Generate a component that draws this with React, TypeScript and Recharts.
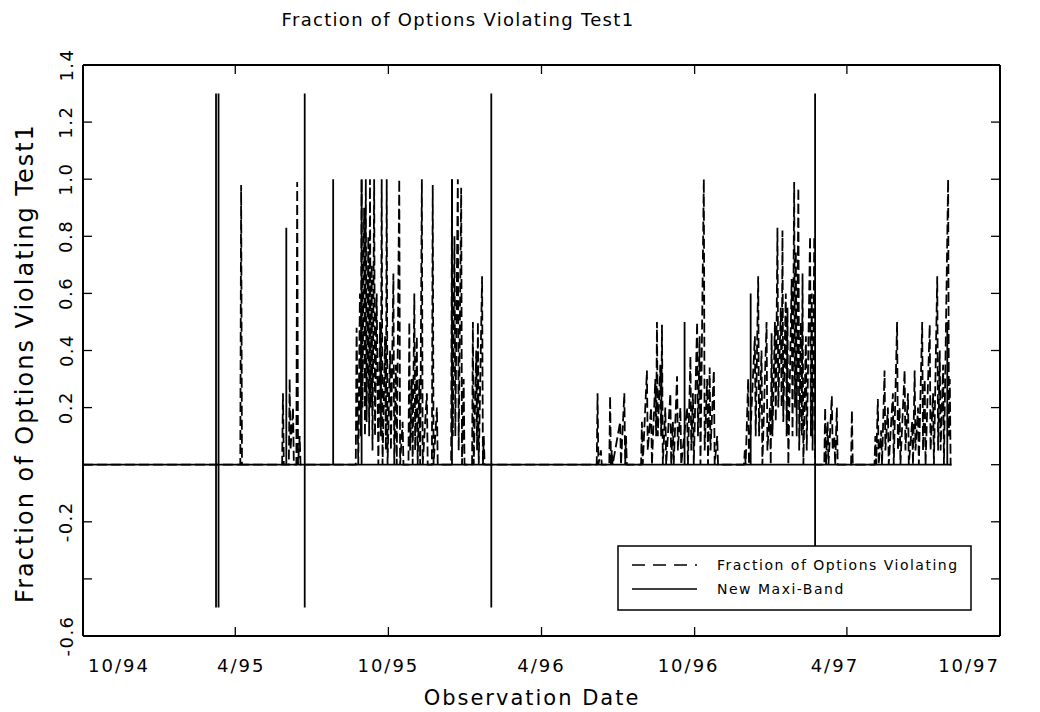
import React from 'react';
import { LineChart, Line, XAxis, YAxis } from 'recharts';

// x values are days since 1 Oct 1994
const xTickDays = [0, 182, 365, 548, 731, 913, 1096];
const xTickLabels = ['10/94', '4/95', '10/95', '4/96', '10/96', '4/97', '10/97'];
const yTicks = [-0.6, -0.4, -0.2, 0, 0.2, 0.4, 0.6, 0.8, 1.0, 1.2, 1.4];
const yTickLabels = ['-0.6', '', '-0.2', '', '0.2', '0.4', '0.6', '0.8', '1.0', '1.2', '1.4'];

const seriesNames = ['Fraction of Options Violating', 'New Maxi-Band'];

// [day, fraction]
const fractionPoints: [number, number][] = [
  [0, 0], [188, 0], [189, 0.98], [190, 0], [238, 0], [239, 0.25], [240, 0], [246, 0], [247, 0.3], [248, 0.05],
  [251, 0.2], [252, 0], [255, 0], [256, 0.99], [257, 0], [259, 0.1], [260, 0],
  [326, 0], [327, 0.48], [329, 0], [331, 0.6], [332, 0.1], [333, 1.0], [334, 0.2], [336, 0.9], [337, 0.1],
  [338, 1.0], [339, 0.15], [341, 0.8], [342, 0.1], [343, 1.0], [344, 0.2], [345, 0.7], [346, 0.05], [348, 1.0],
  [349, 0.1], [351, 0.6], [353, 0], [355, 0.5], [356, 0.1], [357, 1.0], [358, 0], [361, 0.45], [362, 0.05],
  [363, 1.0], [364, 0], [367, 0.4], [368, 0.05], [371, 0.67], [372, 0], [374, 0.35], [375, 0], [378, 1.0],
  [379, 0], [382, 0.15], [383, 0],
  [389, 0], [390, 0.5], [391, 0.05], [393, 0.3], [394, 0], [396, 0.6], [397, 0.05], [399, 0.45], [400, 0],
  [402, 0.3], [403, 0], [405, 1.0], [406, 0], [411, 0.25], [412, 0], [417, 0], [418, 0.98], [419, 0], [423, 0.2], [424, 0],
  [440, 0], [441, 1.0], [442, 0.1], [444, 0.8], [445, 0.1], [448, 1.0], [449, 0.05], [452, 0.97], [453, 0], [455, 0.3], [456, 0],
  [465, 0], [466, 0.5], [467, 0], [470, 0.4], [471, 0.05], [472, 0.5], [473, 0], [477, 0.66], [478, 0], [479, 0.1], [480, 0],
  [614, 0], [615, 0.25], [616, 0], [619, 0.05], [620, 0], [629, 0], [630, 0.24], [631, 0], [632, 0.05], [633, 0],
  [642, 0.15], [643, 0], [647, 0.25], [648, 0], [649, 0.1], [650, 0],
  [667, 0], [668, 0.15], [669, 0], [674, 0.33], [675, 0.05], [679, 0.2], [680, 0], [684, 0.3], [685, 0.1], [686, 0.5],
  [687, 0.1], [690, 0.35], [691, 0.1], [692, 0.49], [693, 0], [696, 0.2], [697, 0], [702, 0.25], [703, 0], [705, 0.15],
  [706, 0], [710, 0.31], [711, 0.05], [714, 0.2], [715, 0], [722, 0.2], [723, 0], [726, 0.38], [727, 0.05], [729, 0.25],
  [730, 0], [734, 0.5], [735, 0.1], [737, 0.45], [738, 0], [742, 1.0], [743, 0.05], [746, 0.3], [747, 0], [749, 0.34],
  [750, 0.05], [754, 0.33], [755, 0], [758, 0.1], [759, 0],
  [790, 0], [791, 0.05], [792, 0], [795, 0.3], [796, 0], [803, 0.45], [804, 0.1], [807, 0.66], [808, 0.1], [811, 0.4],
  [812, 0], [817, 0.5], [818, 0.05], [821, 0.2], [822, 0], [823, 0.46], [824, 0.1], [827, 0.5], [828, 0.15], [830, 0.83],
  [831, 0.2], [834, 0.55], [835, 0.2], [836, 0.82], [837, 0.15], [840, 0.6], [841, 0.1], [842, 0.55], [843, 0], [847, 0.65],
  [848, 0.1], [850, 0.99], [851, 0.2], [852, 0.75], [853, 0.1], [855, 0.97], [856, 0.05], [858, 0.5], [859, 0.1], [860, 0.67],
  [861, 0], [864, 0.45], [865, 0.05], [869, 0.8], [870, 0.1], [871, 0.6], [872, 0.05], [874, 0.8], [875, 0],
  [886, 0], [887, 0.2], [888, 0], [890, 0.15], [891, 0], [895, 0.24], [896, 0.05], [898, 0.1], [899, 0], [901, 0.2], [902, 0],
  [918, 0], [919, 0.19], [920, 0],
  [946, 0], [947, 0.1], [948, 0], [950, 0.23], [951, 0], [954, 0.12], [955, 0], [958, 0.33], [959, 0.05], [962, 0.2],
  [963, 0], [968, 0.25], [969, 0], [973, 0.5], [974, 0.05], [976, 0.2], [977, 0], [982, 0.33], [983, 0.05], [986, 0.25],
  [987, 0], [991, 0.15], [992, 0], [994, 0.33], [995, 0.05], [998, 0.2], [999, 0], [1003, 0.5], [1004, 0.05], [1006, 0.3],
  [1007, 0], [1012, 0.49], [1013, 0.05], [1016, 0.25], [1017, 0], [1021, 0.66], [1022, 0.05], [1024, 0.4], [1025, 0.05],
  [1028, 0.35], [1029, 0], [1034, 1.0], [1035, 0.1], [1036, 0.3], [1037, 0], [1038, 0],
];

// [day, band value]
const bandPoints: [number, number][] = [
  [0, 0],
  [159, 0], [159, 1.3], [159, -0.5], [159, 0],
  [162, 0], [162, 1.3], [162, -0.5], [162, 0],
  [243, 0], [243, 0.83], [243, 0],
  [265, 0], [265, 1.3], [265, -0.5], [265, 0],
  [299, 0], [299, 1.0], [299, 0],
  [333, 0], [333, 1.0], [333, 0],
  [441, 0], [441, 1.0], [441, 0],
  [488, 0], [488, 1.3], [488, -0.5], [488, 0],
  [719, 0], [719, 0.5], [719, 0],
  [798, 0], [798, 0.6], [798, 0],
  [875, 0], [875, 1.3], [875, -0.5], [875, 0],
  [1033, 0], [1033, 0.5], [1033, 0],
  [1038, 0],
];

const fractionData = fractionPoints.map(([day, value]) => ({ day, value }));
const bandData = bandPoints.map(([day, value]) => ({ day, value }));

const FONT = "'DejaVu Sans', 'Liberation Sans', sans-serif";
const TICK_LEN = 9;

const BottomTick = (props: any) => {
  const { x, y, payload } = props;
  const i = xTickDays.indexOf(payload.value);
  const last = xTickDays.length - 1;
  const anchor = i === 0 ? 'start' : i === last ? 'end' : 'middle';
  const dx = i === 0 ? 5 : i === 1 ? 6 : i === 4 ? -6 : i === 5 ? -12 : 0;
  return (
    <g>
      <line x1={x} y1={y} x2={x} y2={y - TICK_LEN} stroke="#000" strokeWidth={1.3} />
      <text x={x + dx} y={y + 29} textAnchor={anchor} dominantBaseline="central" fontFamily={FONT}
        fontSize={18} letterSpacing={2} fill="#000">{xTickLabels[i]}</text>
    </g>
  );
};

const TopTick = (props: any) => {
  const { x, y } = props;
  return <line x1={x} y1={y} x2={x} y2={y + TICK_LEN} stroke="#000" strokeWidth={1.3} />;
};

const LeftTick = (props: any) => {
  const { x, y, payload } = props;
  const i = yTicks.findIndex((t) => Math.abs(t - payload.value) < 1e-6);
  const label = i >= 0 ? yTickLabels[i] : '';
  const tx = x - 17;
  return (
    <g>
      <line x1={x} y1={y} x2={x + TICK_LEN} y2={y} stroke="#000" strokeWidth={1.3} />
      {label && (
        <text x={tx} y={y} transform={`rotate(-90 ${tx} ${y})`} textAnchor="middle" dominantBaseline="central"
          fontFamily={FONT} fontSize={18} letterSpacing={1.5} fill="#000">{label}</text>
      )}
    </g>
  );
};

const RightTick = (props: any) => {
  const { x, y } = props;
  return <line x1={x} y1={y} x2={x - TICK_LEN} y2={y} stroke="#000" strokeWidth={1.3} />;
};

export default function App() {
  return (
    <div style={{ position: 'relative', width: 1024, height: 704, background: '#fff', fontFamily: FONT }}>
      <div style={{ position: 'absolute', left: 0, top: 1, width: 900, textAlign: 'center', fontSize: 18,
        letterSpacing: 1.3, lineHeight: '22px', color: '#000' }}>
        Fraction of Options Violating Test1
      </div>
      <div style={{ position: 'absolute', left: 17 - 300, top: 355 - 15, width: 600, height: 30, lineHeight: '30px',
        textAlign: 'center', fontSize: 24, letterSpacing: 2, transform: 'rotate(-90deg)', color: '#000' }}>
        Fraction of Options Violating Test1
      </div>
      <div style={{ position: 'absolute', left: 324, top: 677, width: 400, height: 26, lineHeight: '26px',
        textAlign: 'center', fontSize: 21, letterSpacing: 2, color: '#000' }}>
        Observation Date
      </div>
      <LineChart width={1024} height={704} margin={{ top: 56, right: 31, bottom: 36, left: 25 }}>
        <XAxis dataKey="day" type="number" domain={[0, 1096]} ticks={xTickDays} interval={0}
          allowDataOverflow height={40} tickSize={0} tickMargin={0} tick={<BottomTick />}
          axisLine={{ stroke: '#000', strokeWidth: 2 }} tickLine={false} />
        <XAxis xAxisId="top" orientation="top" dataKey="day" type="number" domain={[0, 1096]} ticks={xTickDays}
          interval={0} allowDataOverflow height={1} tickSize={0} tickMargin={0} tick={<TopTick />}
          axisLine={{ stroke: '#000', strokeWidth: 2 }} tickLine={false} />
        <YAxis type="number" domain={[-0.6, 1.4]} ticks={yTicks} interval={0} allowDataOverflow width={50}
          tickSize={0} tickMargin={0} tick={<LeftTick />} axisLine={{ stroke: '#000', strokeWidth: 2 }} tickLine={false} />
        <YAxis yAxisId="right" orientation="right" type="number" domain={[-0.6, 1.4]} ticks={yTicks} interval={0}
          allowDataOverflow width={1} tickSize={0} tickMargin={0} tick={<RightTick />}
          axisLine={{ stroke: '#000', strokeWidth: 2 }} tickLine={false} />
        <Line data={fractionData} dataKey="value" name={seriesNames[0]} type="linear" stroke="#000"
          strokeWidth={1.8} strokeDasharray="10 4" dot={false} activeDot={false} isAnimationActive={false} />
        <Line data={bandData} dataKey="value" name={seriesNames[1]} xAxisId="top" yAxisId="right" type="linear"
          stroke="#000" strokeWidth={1.8} dot={false} activeDot={false} isAnimationActive={false} />
      </LineChart>
      <svg style={{ position: 'absolute', left: 609, top: 537 }} width={356} height={67}>
        <rect x={1} y={1} width={353} height={64} fill="#fff" stroke="#000" strokeWidth={1.5} />
        <line x1={15} y1={20} x2={80} y2={20} stroke="#000" strokeWidth={1.6} strokeDasharray="13 8" />
        <text x={100} y={20} dominantBaseline="central" fontFamily={FONT} fontSize={14} letterSpacing={1.5}
          fill="#000">{seriesNames[0]}</text>
        <line x1={15} y1={44} x2={80} y2={44} stroke="#000" strokeWidth={1.6} />
        <text x={100} y={44} dominantBaseline="central" fontFamily={FONT} fontSize={14} letterSpacing={1.5}
          fill="#000">{seriesNames[1]}</text>
      </svg>
    </div>
  );
}
